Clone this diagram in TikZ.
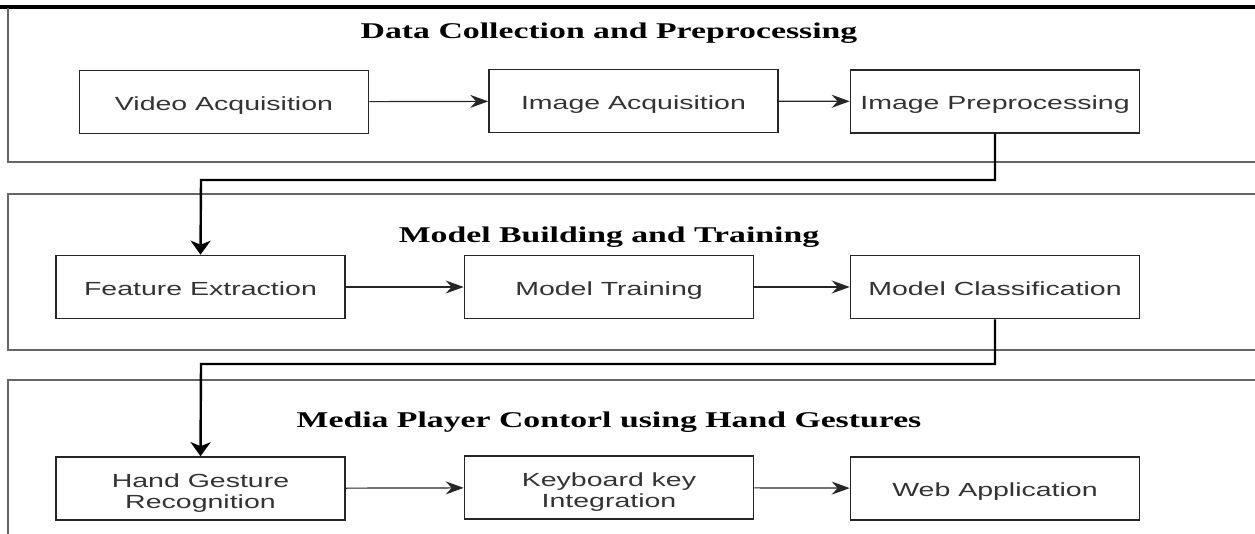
\documentclass[tikz,border=0pt]{standalone}
\usepackage{fontspec}
\usetikzlibrary{arrows.meta}
\newfontfamily\boxfont[FakeStretch=1.5]{Liberation Sans}
\newfontfamily\ttlfont[FakeStretch=1.5]{Liberation Serif}
\tikzset{
  panel/.style={draw=black!60, line width=1.8pt},
  stagebox/.style={draw=black!85, line width=1.6pt, minimum width=289pt, minimum height=63pt,
    inner sep=0pt, align=center, text=black!80, font=\boxfont\fontsize{19}{21}\selectfont},
  oneline/.style={text height=17pt, text depth=1pt},
  ttl/.style={anchor=base, inner sep=0pt, font=\ttlfont\bfseries\fontsize{22.5}{26}\selectfont},
  flow/.style={-{Stealth[length=18pt,width=13pt,inset=6pt]}, line width=1.2pt, draw=black!85},
  link/.style={-{Stealth[length=14pt,width=20pt,inset=4pt]}, line width=2.4pt}
}
\begin{document}
\begin{tikzpicture}[x=1pt,y=1pt]
\useasboundingbox (0,0) rectangle (1255,-533);
\clip (0,0) rectangle (1255,-533);
\fill[white] (0,0) rectangle (1255,-533);
% top bar
\draw[line width=4pt] (0,-7) -- (1255,-7);
% panels
\draw[panel] (8,-8) -- (8,-162) -- (1262,-162);
\draw[panel] (1262,-194) -- (8,-194) -- (8,-350) -- (1262,-350);
\draw[panel] (1262,-380) -- (8,-380) -- (8,-545);
% titles
\node[ttl] (t1) at (609,-38) {Data Collection and Preprocessing};
\node[ttl] (t2) at (609,-242) {Model Building and Training};
\node[ttl] (t3) at (609,-427) {Media Player Contorl using Hand Gestures};
% boxes
\node[stagebox,oneline] (va) at (224,-102) {Video Acquisition};
\node[stagebox,oneline] (ia) at (633.5,-101) {Image Acquisition};
\node[stagebox,oneline] (ip) at (995,-101.5) {Image Preprocessing};
\node[stagebox,oneline] (fe) at (200.5,-287) {Feature Extraction};
\node[stagebox,oneline] (mt) at (609,-287) {Model Training};
\node[stagebox,oneline] (mc) at (995,-287) {Model Classification};
\node[stagebox] (hg) at (200.5,-488.5) {\rule{0pt}{22pt}Hand Gesture\\Recognition};
\node[stagebox] (kk) at (609,-487.5) {\rule{0pt}{22pt}Keyboard key\\Integration};
\node[stagebox,oneline] (wa) at (995,-488.5) {Web Application};
% flows
\draw[flow] (va) -- (ia);
\draw[flow] (ia) -- (ip);
\draw[flow] (fe) -- (mt);
\draw[flow] (mt) -- (mc);
\draw[flow] (hg) -- (kk);
\draw[flow] (kk) -- (wa);
% links between panels
\draw[link] (ip.south) |- (201,-180) -- (fe.north);
\draw[link] (mc.south) |- (201,-364) -- (hg.north);
\end{tikzpicture}
\end{document}
